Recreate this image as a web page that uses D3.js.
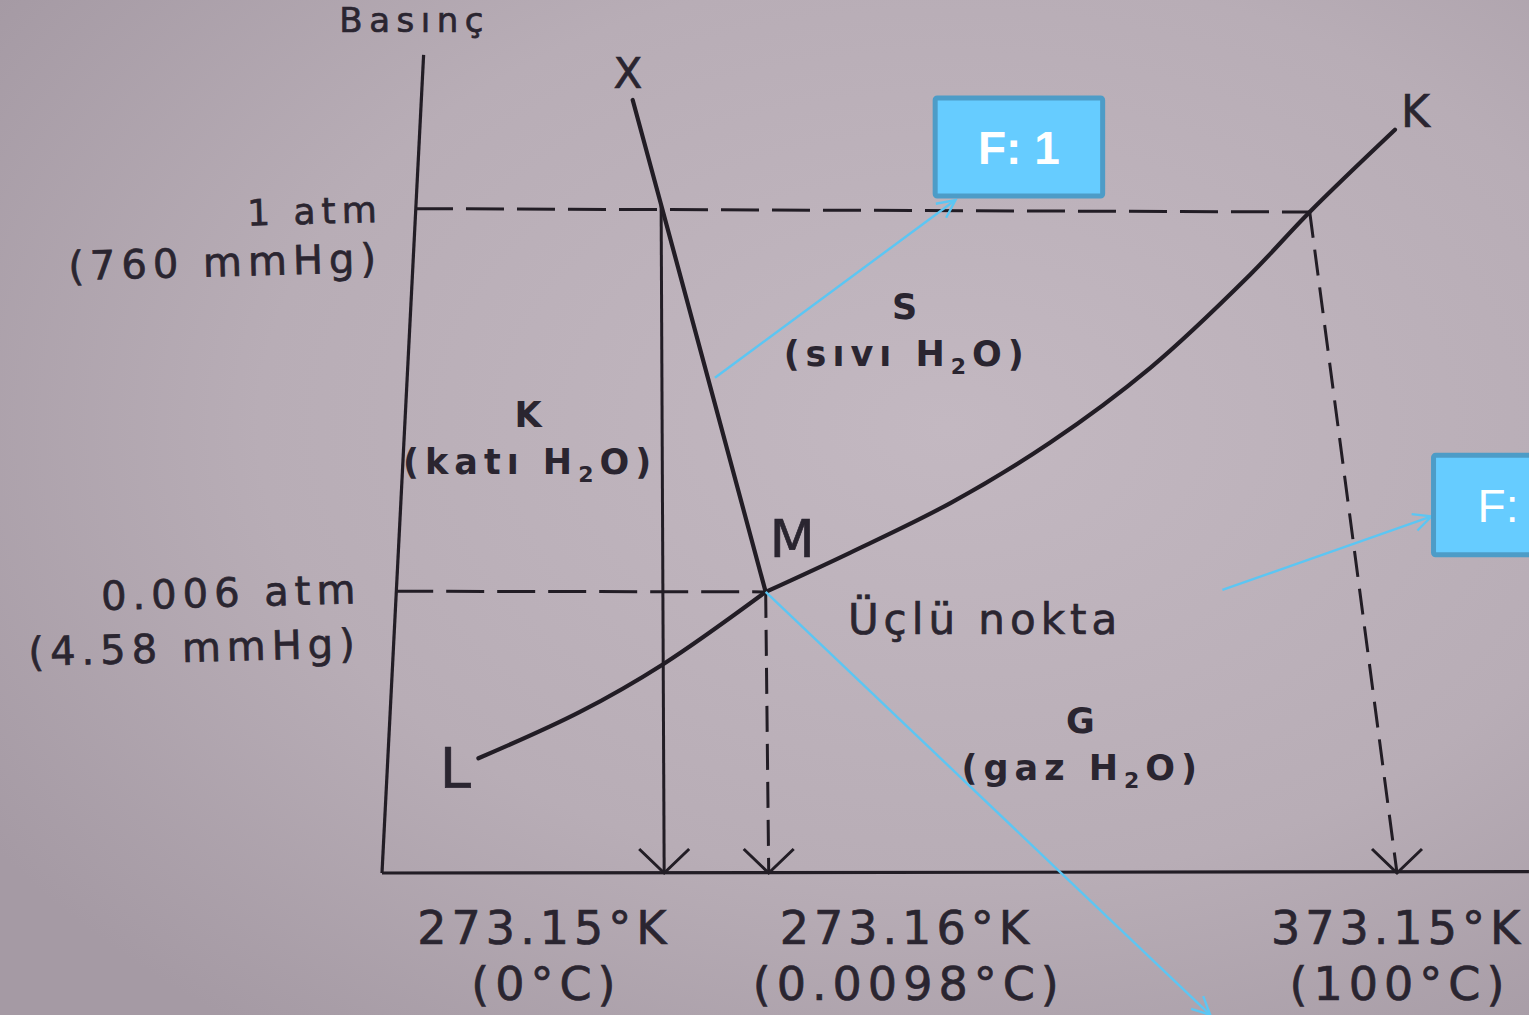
<!DOCTYPE html>
<html>
<head>
<meta charset="utf-8">
<script src="https://cdn.jsdelivr.net/npm/d3@7"></script>
<style>
  html, body { margin: 0; padding: 0; background: #b7acb5; }
  svg { display: block; }
</style>
</head>
<body>
<svg id="chart" width="1529" height="1015"></svg>
<script>
// Phase diagram of water, drawn in schematic units:
// u runs along the temperature axis (0 = axis origin, 100 = 373.15 K),
// v runs along the pressure axis (0 = axis origin, 100 = 1 atm).

// Phase boundaries
const meltingCurve     = [[24.7, 116.6], [27.5, 100.8], [37.8, 42.4]];                        // X -> M
const vaporCurve       = [[37.8, 42.4], [46.1, 48.3], [56.0, 55.8], [65.8, 64.9],
                          [75.7, 76.2], [85.5, 90.2], [91.4, 99.7], [99.8, 112.1]];           // M -> K
const sublimationCurve = [[9.5, 17.3], [19.5, 24.3], [27.7, 31.5], [37.8, 42.4]];             // L -> M

// Axes
const axisPressure    = [[0, 0], [4.1, 123.4]];
const axisTemperature = [[0, 0], [113, 0.2]];

// Horizontal guides for the two marked pressures
const pressureGuides = [
  [[3.25, 100.2], [91.4, 99.7]],
  [[1.3, 42.5], [37.8, 42.4]]
];
// Drop lines down to the marked temperatures
const tempDrops = [
  [[27.5, 100.8], [27.8, 0]],
  [[37.8, 42.4], [38.1, 0]],
  [[91.4, 99.7], [100, 0]]
];
const tempDropDashed = [false, true, true];

// Tick labels
const pressureAtm    = ["1 atm", "0.006 atm"];
const pressureMmHg   = ["(760 mmHg)", "(4.58 mmHg)"];
const pressureLabelV = [98.2, 40.7];
const pressureLabelU = [0.1, -2.0];
const tempKelvin     = ["273.15°K", "273.16°K", "373.15°K"];
const tempCelsius    = ["(0°C)", "(0.0098°C)", "(100°C)"];
const tempLabelU     = [16.0, 51.7, 100.1];

// Region labels
const regionLetters = ["S", "K", "G"];
const regionNames   = [["(sıvı H", "2", "O)"], ["(katı H", "2", "O)"], ["(gaz H", "2", "O)"]];
const regionPos     = [[51.5, 83.5], [14.4, 67.2], [68.8, 21.1]];

// Point names along the curves
const pointNames = ["X", "M", "L", "K"];
const pointPos   = [[22.8, 118.4], [38.2, 47.6], [5.7, 12.9], [100.4, 112.5]];
const pointSize  = [42, 52, 56, 44];

// Callout boxes and their pointer lines
const calloutText  = ["F: 1", "F:"];
const calloutBoxes = [[[54.5, 116.9], [71.0, 102.1]], [[103.6, 63.0], [115, 48.0]]];
const calloutBold  = [true, false];
const pointers = [
  [[32.8, 74.7], [56.5, 101.5]],
  [[82.8, 42.7], [103.4, 53.8]],
  [[37.8, 42.4], [81.6, -21.4]]
];

const W = 1529, H = 1015;
const x = d3.scaleLinear().domain([0, 100]).range([382, 1397]);
const y = d3.scaleLinear().domain([0, 100]).range([873, 210]);

const svg = d3.select("#chart");
const ink = "#221d25";
const textInk = "#2a2530";
const blue = "#5cc6f3";

// paper background
const defs = svg.append("defs");
const grad = defs.append("radialGradient").attr("id", "paper")
  .attr("cx", "0.62").attr("cy", "0.42").attr("r", "0.75");
grad.append("stop").attr("offset", "0").attr("stop-color", "#c3b8c1");
grad.append("stop").attr("offset", "0.6").attr("stop-color", "#b8adb6");
grad.append("stop").attr("offset", "1").attr("stop-color", "#a59aa4");
svg.append("rect").attr("width", W).attr("height", H).attr("fill", "url(#paper)");

const seg = d3.line().x(d => x(d[0])).y(d => y(d[1]));
const smooth = d3.line().x(d => x(d[0])).y(d => y(d[1])).curve(d3.curveCatmullRom.alpha(0.5));

// axes
[axisPressure, axisTemperature].forEach(a => {
  svg.append("path").attr("d", seg(a)).attr("fill", "none")
    .attr("stroke", ink).attr("stroke-width", 3.2);
});

// dashed pressure guides
pressureGuides.forEach(g => {
  svg.append("path").attr("d", seg(g)).attr("fill", "none")
    .attr("stroke", ink).attr("stroke-width", 3)
    .attr("stroke-dasharray", "38,13");
});

// drop lines with open arrowheads at the temperature axis
tempDrops.forEach((g, i) => {
  svg.append("path").attr("d", seg(g)).attr("fill", "none")
    .attr("stroke", ink).attr("stroke-width", 3)
    .attr("stroke-dasharray", tempDropDashed[i] ? "26,12" : null);
  const ex = x(g[1][0]), ey = y(g[1][1]);
  svg.append("path")
    .attr("d", `M${ex - 25},${ey - 24}L${ex},${ey}L${ex + 25},${ey - 24}`)
    .attr("fill", "none").attr("stroke", ink).attr("stroke-width", 3);
});

// phase boundaries
svg.append("path").attr("d", seg(meltingCurve)).attr("fill", "none")
  .attr("stroke", ink).attr("stroke-width", 4.2)
  .attr("stroke-linecap", "round").attr("stroke-linejoin", "round");
[vaporCurve, sublimationCurve].forEach(c => {
  svg.append("path").attr("d", smooth(c)).attr("fill", "none")
    .attr("stroke", ink).attr("stroke-width", 4.2)
    .attr("stroke-linecap", "round").attr("stroke-linejoin", "round");
});

const font = "'DejaVu Sans', Verdana, sans-serif";

// helper for printed-looking regular text
function label(px, py, txt, size, spacing, anchor) {
  return svg.append("text").attr("x", px).attr("y", py)
    .attr("text-anchor", anchor || "start").attr("font-family", font)
    .attr("font-size", size).attr("letter-spacing", spacing)
    .attr("fill", textInk).attr("stroke", textInk).attr("stroke-width", 0.7)
    .text(txt);
}

// pressure axis title
label(x(-4.2), 32, "Basınç", 34, 6.5);

// pressure tick labels (slightly tilted, as printed)
pressureAtm.forEach((t, i) => {
  const px = x(pressureLabelU[i]), py = y(pressureLabelV[i]);
  label(px, py, t, i === 0 ? 36 : 40, 6, "end")
    .attr("transform", `rotate(-1.5,${px},${py})`);
  label(px - 2, py + (i === 0 ? 50 : 54), pressureMmHg[i], 40, 6, "end")
    .attr("transform", `rotate(-1.5,${px},${py})`);
});

// temperature tick labels
tempKelvin.forEach((t, i) => {
  const px = x(tempLabelU[i]);
  label(px, 944, t, 46, 5, "middle");
  label(px + 2, 1000, tempCelsius[i], 46, 6, "middle");
});

// region labels (bold, with subscript 2)
regionLetters.forEach((l, i) => {
  const px = x(regionPos[i][0]), py = y(regionPos[i][1]);
  svg.append("text").attr("x", px).attr("y", py)
    .attr("text-anchor", "middle").attr("font-family", font)
    .attr("font-weight", "bold").attr("font-size", 35)
    .attr("fill", textInk).text(l);
  const t = svg.append("text").attr("x", px + 2).attr("y", py + 47)
    .attr("text-anchor", "middle").attr("font-family", font)
    .attr("font-weight", "bold").attr("font-size", 35).attr("letter-spacing", 6)
    .attr("fill", textInk);
  const parts = regionNames[i];
  t.append("tspan").text(parts[0]);
  t.append("tspan").attr("font-size", 22).attr("dy", 8).text(parts[1]);
  t.append("tspan").attr("dy", -8).text(parts[2]);
});

// triple point caption
label(x(45.9), 634, "Üçlü nokta", 42, 5);

// point names
pointNames.forEach((n, i) => {
  label(x(pointPos[i][0]), y(pointPos[i][1]), n, pointSize[i], 0);
});

// callout pointers with open arrowheads
pointers.forEach(p => {
  const x0 = x(p[0][0]), y0 = y(p[0][1]), x1 = x(p[1][0]), y1 = y(p[1][1]);
  svg.append("line").attr("x1", x0).attr("y1", y0).attr("x2", x1).attr("y2", y1)
    .attr("stroke", blue).attr("stroke-width", 2.4);
  const a = Math.atan2(y1 - y0, x1 - x0), L = 20, s = 0.45;
  svg.append("path")
    .attr("d", `M${x1 - L * Math.cos(a - s)},${y1 - L * Math.sin(a - s)}L${x1},${y1}L${x1 - L * Math.cos(a + s)},${y1 - L * Math.sin(a + s)}`)
    .attr("fill", "none").attr("stroke", blue).attr("stroke-width", 2.4);
});

// callout boxes
calloutBoxes.forEach((b, i) => {
  const x0 = x(b[0][0]), y0 = y(b[0][1]), x1 = x(b[1][0]), y1 = y(b[1][1]);
  svg.append("rect").attr("x", x0).attr("y", y0)
    .attr("width", x1 - x0).attr("height", y1 - y0).attr("rx", 2)
    .attr("fill", "#66ccff").attr("stroke", "#4d9cc7").attr("stroke-width", 5);
  svg.append("text")
    .attr("x", i === 0 ? (x0 + x1) / 2 : x0 + 44)
    .attr("y", (y0 + y1) / 2 + 17)
    .attr("text-anchor", i === 0 ? "middle" : "start")
    .attr("font-family", "'Liberation Sans', Arial, sans-serif")
    .attr("font-weight", calloutBold[i] ? "bold" : "normal")
    .attr("font-size", 46).attr("fill", "#ffffff").text(calloutText[i]);
});
</script>
</body>
</html>
